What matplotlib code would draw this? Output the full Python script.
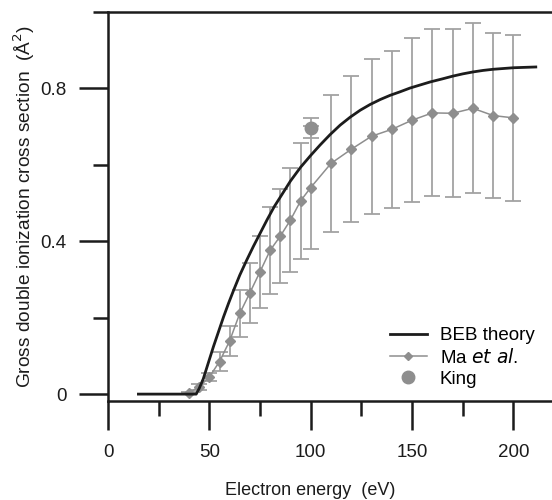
import matplotlib
matplotlib.use('Agg')
import matplotlib.pyplot as plt
from matplotlib.lines import Line2D
import numpy as np

plt.rcParams['font.family'] = ['Liberation Sans', 'DejaVu Sans']

# BEB theory curve
beb_energy = [15, 43.5, 45, 47, 49.5, 52, 54.5, 57, 59.5, 62, 65, 68.4, 71.7, 75, 78.5,
              82, 85, 90, 95, 100, 104.6, 109.5, 114.5, 119.5, 124.4, 129.3, 134.3,
              139.2, 144, 149, 154, 159, 165, 170, 175, 180, 185, 190, 195, 200, 211]
beb_sigma = [0, 0, 0.015, 0.04, 0.082, 0.124, 0.163, 0.202, 0.238, 0.272, 0.311, 0.35,
             0.386, 0.42, 0.456, 0.49, 0.515, 0.557, 0.593, 0.624, 0.651, 0.678, 0.703,
             0.724, 0.742, 0.757, 0.770, 0.781, 0.790, 0.800, 0.808, 0.816, 0.824,
             0.831, 0.837, 0.842, 0.846, 0.849, 0.851, 0.853, 0.855]

# Ma et al. measurements
ma_energy = [40, 45, 50, 55, 60, 65, 70, 75, 80, 85, 90, 95, 100,
             110, 120, 130, 140, 150, 160, 170, 180, 190, 200]
ma_sigma = [0.004, 0.019, 0.045, 0.085, 0.139, 0.211, 0.265, 0.320, 0.376, 0.413,
            0.455, 0.505, 0.540, 0.603, 0.640, 0.674, 0.692, 0.716, 0.735, 0.734,
            0.747, 0.728, 0.722]
ma_err = [0.002, 0.008, 0.011, 0.024, 0.040, 0.061, 0.078, 0.094, 0.114, 0.122,
          0.136, 0.151, 0.161, 0.180, 0.191, 0.202, 0.206, 0.214, 0.218, 0.219,
          0.222, 0.216, 0.216]

# King
king_energy = [100]
king_sigma = [0.696]
king_err = [0.026]

gray = '#8e8e8e'
bar_gray = '#a2a2a2'
ink = '#1c1c1c'
fs = 13.5

fig = plt.figure(figsize=(5.52, 5.0), dpi=100)
ax = fig.add_axes([108/552, 1-401/500, 444/552, 389.5/500])

ax.errorbar(ma_energy, ma_sigma, yerr=ma_err, fmt='none', ecolor=bar_gray,
            elinewidth=1.3, capsize=5.5, capthick=1.3, zorder=2)
ax.plot(ma_energy, ma_sigma, '-', color=gray, lw=1.1, marker='D', ms=5,
        mfc=gray, mec=gray, zorder=3)
ax.errorbar(king_energy, king_sigma, yerr=king_err, fmt='o', color=gray, ms=9,
            ecolor=bar_gray, elinewidth=1.3, capsize=5.5, capthick=1.3, zorder=3)
ax.plot(beb_energy, beb_sigma, '-', color=ink, lw=2.0, zorder=4,
        solid_joinstyle='round')

ax.set_xlim(0, 219)
ax.set_ylim(-0.018, 1.0)
ax.set_xticks([0, 50, 100, 150, 200])
ax.set_xticks([25, 75, 125, 175], minor=True)
ax.set_yticks([0, 0.4, 0.8])
ax.set_yticklabels(['0', '0.4', '0.8'])
ax.set_yticks([0.2, 0.6, 1.0], minor=True)

for side in ['left', 'bottom', 'top']:
    ax.spines[side].set_linewidth(1.8)
    ax.spines[side].set_color(ink)
ax.spines['right'].set_visible(False)

ax.tick_params(which='major', direction='out', length=21, width=1.8, color=ink,
               labelsize=fs, labelcolor=ink)
ax.tick_params(axis='x', which='major', pad=10)
ax.tick_params(axis='y', which='major', pad=9)
ax.tick_params(which='minor', direction='out', length=11, width=1.8, color=ink)

ax.set_xlabel('Electron energy  (eV)', fontsize=13, color=ink)
ax.xaxis.set_label_coords(0.455, -0.207)
ax.set_ylabel('Gross double ionization cross section  (Å$^2$)', fontsize=13.8,
              color=ink)
ax.yaxis.set_label_coords(-0.16, 0.5)

handles = [
    Line2D([], [], color=ink, lw=2.0),
    Line2D([], [], color=gray, lw=1.1, marker='D', ms=4),
    Line2D([], [], color=gray, lw=0, marker='o', ms=9),
]
labels = ['BEB theory', 'Ma $\\it{et\\ al}$.', 'King']
ax.legend(handles, labels, loc='upper left', bbox_to_anchor=(0.635, 0.19),
          frameon=False, fontsize=fs, handlelength=1.95, handletextpad=0.7,
          labelspacing=0.2, borderpad=0, borderaxespad=0)

fig.savefig('out.png', dpi=100)
